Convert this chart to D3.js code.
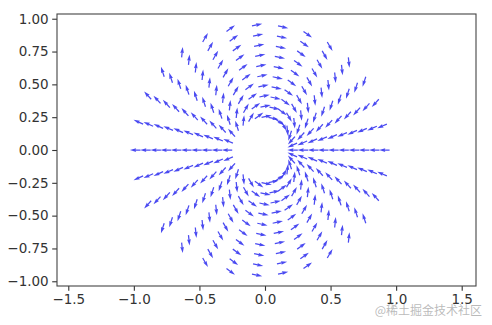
<!DOCTYPE html>
<html>
<head>
<meta charset="utf-8">
<script src="https://cdn.jsdelivr.net/npm/d3@7"></script>
<style>
  body { margin: 0; background: #fff; }
  text { font-family: "DejaVu Sans", sans-serif; }
</style>
</head>
<body>
<div id="myChart"></div>
<script>
// polar grid of the quiver: radius of each arrow tail, angle of each ray (deg)
const radii = [0.25, 0.328, 0.406, 0.483, 0.561, 0.639, 0.717, 0.794, 0.872, 0.95];
const rayAngles = [0, 12, 24, 36, 48, 60, 72, 84, 96, 108, 120, 132, 144, 156, 168,
  180, 192, 204, 216, 228, 240, 252, 264, 276, 288, 300, 312, 324, 336, 348];
// direction each arrow on that ray points to (deg, counter clockwise)
const arrowDirs = [180, 204, 228, 252, 276, 300, 324, 348, 12, 36, 60, 84, 108, 132, 156,
  180, 204, 228, 252, 276, 300, 324, 348, 12, 36, 60, 84, 108, 132, 156];
const xTicks = [-1.5, -1.0, -0.5, 0.0, 0.5, 1.0, 1.5];
const yTicks = [-1.0, -0.75, -0.5, -0.25, 0.0, 0.25, 0.5, 0.75, 1.0];

const arrowLen = 0.08; // data units
const margin = { top: 14, right: 16, bottom: 39, left: 57 };
const width = 492 - margin.left - margin.right;
const height = 325 - margin.top - margin.bottom;

const xScale = d3.scaleLinear().domain([-1.586, 1.609]).range([0, width]);
const yScale = d3.scaleLinear().domain([-1.036, 1.036]).range([height, 0]);

const svg = d3
  .select("#myChart")
  .append("svg")
  .attr("width", width + margin.left + margin.right)
  .attr("height", height + margin.top + margin.bottom);

const g = svg.append("g").attr("transform", `translate(${margin.left}, ${margin.top})`);

// one record per arrow
const arrows = [];
rayAngles.forEach((a, i) => {
  radii.forEach((r) => {
    const t = (a * Math.PI) / 180;
    arrows.push({ x: r * Math.cos(t), y: r * Math.sin(t), dir: arrowDirs[i] });
  });
});

// matplotlib style arrow shape, shaft width w px
const w = 1.25;
const L = xScale(arrowLen) - xScale(0);
const shape = [
  [0, w / 2], [L - 4.5 * w, w / 2], [L - 5 * w, 1.5 * w], [L, 0],
  [L - 5 * w, -1.5 * w], [L - 4.5 * w, -w / 2], [0, -w / 2],
];

g.append("g")
  .selectAll("polygon")
  .data(arrows)
  .enter()
  .append("polygon")
  .attr("points", shape.map((p) => p.join(",")).join(" "))
  .attr("transform", (d) => `translate(${xScale(d.x)},${yScale(d.y)}) rotate(${-d.dir})`)
  .style("fill", "#2a2aee")
  .style("fill-opacity", 0.85);

const fmtX = (v) => d3.format(".1f")(v).replace("-", "\u2212");
const fmtY = (v) => d3.format(".2f")(v).replace("-", "\u2212");

const xAxis = g
  .append("g")
  .attr("transform", `translate(0, ${height})`)
  .call(d3.axisBottom(xScale).tickValues(xTicks).tickFormat(fmtX).tickSize(4.8).tickPadding(3.5));
const yAxis = g
  .append("g")
  .call(d3.axisLeft(yScale).tickValues(yTicks).tickFormat(fmtY).tickSize(4.8).tickPadding(3.5));

[xAxis, yAxis].forEach((ax) => {
  ax.select(".domain").remove();
  ax.selectAll(".tick line").attr("stroke", "#333").attr("stroke-width", 1.1);
  ax.selectAll(".tick text")
    .attr("fill", "#333")
    .style("font-size", "13.5px")
    .style("font-family", "DejaVu Sans, sans-serif");
});

// frame
g.append("rect")
  .attr("width", width)
  .attr("height", height)
  .attr("fill", "none")
  .attr("stroke", "#444")
  .attr("stroke-width", 1.1);

// watermark
svg
  .append("text")
  .attr("x", 482)
  .attr("y", 315)
  .attr("text-anchor", "end")
  .style("font-family", "Noto Sans CJK SC, sans-serif")
  .style("font-size", "12px")
  .style("fill", "rgba(140,140,140,0.6)")
  .text("@稀土掘金技术社区");
</script>
</body>
</html>
